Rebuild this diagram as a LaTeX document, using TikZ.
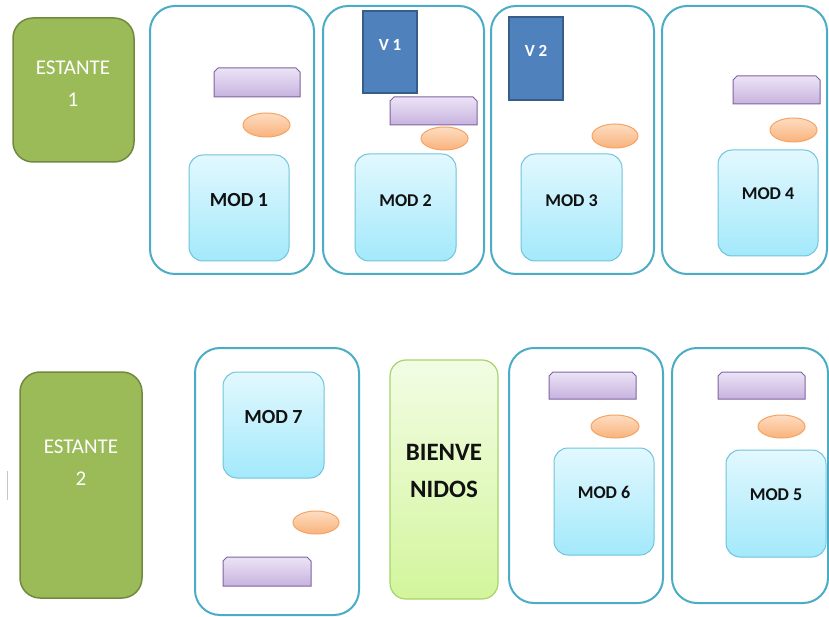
\documentclass[tikz,border=0pt]{standalone}
\usepackage{fontspec}
\setmainfont{Carlito}
\usetikzlibrary{shapes.geometric}
\definecolor{panelc}{HTML}{4BACC6}
\definecolor{estf}{HTML}{9BBB59}
\definecolor{estd}{HTML}{71893F}
\definecolor{modtop}{HTML}{E2F8FE}
\definecolor{modbot}{HTML}{A3E9FB}
\definecolor{modline}{HTML}{6FC4DC}
\definecolor{purtop}{HTML}{ECE4F6}
\definecolor{purbot}{HTML}{C7B2DE}
\definecolor{purline}{HTML}{8064A2}
\definecolor{ortop}{HTML}{FDDDC2}
\definecolor{orbot}{HTML}{F9B27B}
\definecolor{orline}{HTML}{F5A464}
\definecolor{vfill}{HTML}{4F81BD}
\definecolor{vline}{HTML}{385D8A}
\definecolor{bvtop}{HTML}{F2FDE4}
\definecolor{bvbot}{HTML}{D3F59C}
\definecolor{bvline}{HTML}{A6D46A}
\definecolor{txt}{HTML}{111111}
\tikzset{
  panel/.style={draw=panelc, line width=2pt, rounded corners=25pt, fill=white},
  estante/.style={draw=estd, fill=estf, line width=1.5pt, rounded corners=20pt},
  esttxt/.style={text=white, align=center, inner sep=0pt, font=\fontsize{21}{32}\selectfont},
  modbox/.style={draw=modline, line width=1pt, top color=modtop, bottom color=modbot, rounded corners=14pt},
  modtxt/.style={font=\bfseries\fontsize{18}{20}\selectfont, text=txt, inner sep=0pt},
  modtxtbig/.style={font=\bfseries\fontsize{20}{22}\selectfont, text=txt, inner sep=0pt},
  vbox/.style={draw=vline, line width=1.2pt, fill=vfill},
  vtxt/.style={font=\bfseries\fontsize{17}{19}\selectfont, text=white, inner sep=0pt},
  orel/.style={ellipse, draw=orline, line width=1pt, top color=ortop, bottom color=orbot},
  purp/.style={draw=purline, line width=1pt, top color=purtop, bottom color=purbot},
  purpanchor/.style={rectangle, draw=none, fill=none},
  bienv/.style={draw=bvline, line width=1.2pt, top color=bvtop, bottom color=bvbot, rounded corners=16pt},
  bientxt/.style={align=center, text=txt, inner sep=0pt, font=\bfseries\fontsize{25}{37}\selectfont},
}
% generic box: #1 name, #2 style, #3 x1, #4 y1, #5 x2, #6 y2, #7 text
\newcommand\bxnode[7]{%
  \node[#2, inner sep=0pt, outer sep=0pt, minimum width={(#5-#3)*1pt}, minimum height={(#6-#4)*1pt}]
    (#1) at ({(#3+#5)/2},{(#4+#6)/2}) {#7};}
% purple chamfered bar: #1 name, #2 x1, #3 y1, #4 x2, #5 y2
\newcommand\purpbar[5]{%
  \bxnode{#1}{purpanchor}{#2}{#3}{#4}{#5}{}%
  \shade[purp] (#2,#5) -- (#2,{#3+4}) -- ({#2+4},#3) -- ({#4-4},#3) -- (#4,{#3+4}) -- (#4,#5) -- cycle;}
\begin{document}
\begin{tikzpicture}[x=1pt,y=-1pt]
\useasboundingbox (0,0) rectangle (829,617);

% ---------- top row ----------
\bxnode{est1}{estante}{13}{18}{134}{162}{}
\node[esttxt] (est1t) at (73,84) {ESTANTE\\1};

\bxnode{pan1}{panel}{150}{6}{314}{274}{}
\bxnode{pan2}{panel}{323}{6}{484}{274}{}
\bxnode{pan3}{panel}{491}{6}{654}{274}{}
\bxnode{pan4}{panel}{662}{6}{827}{274}{}

% panel 1
\purpbar{pu1}{214}{68}{300}{97}
\bxnode{or1}{orel}{243}{113}{290}{137}{}
\bxnode{mod1}{modbox}{189}{155}{289}{261}{}
\node[modtxtbig] (mod1t) at ([yshift=8pt]mod1.center) {MOD 1};

% panel 2
\bxnode{v1}{vbox}{363}{11}{417}{93}{}
\node[vtxt] (v1t) at (390,45) {V 1};
\purpbar{pu2}{390}{97}{477}{125}
\bxnode{or2}{orel}{421}{127}{468}{150}{}
\bxnode{mod2}{modbox}{355}{154}{456}{261}{}
\node[modtxt] (mod2t) at ([yshift=7pt]mod2.center) {MOD 2};

% panel 3
\bxnode{v2}{vbox}{509}{17}{563}{100}{}
\node[vtxt] (v2t) at (536,51) {V 2};
\bxnode{or3}{orel}{592}{124}{638}{148}{}
\bxnode{mod3}{modbox}{521}{154}{622}{261}{}
\node[modtxt] (mod3t) at ([yshift=7pt]mod3.center) {MOD 3};

% panel 4
\purpbar{pu4}{733}{76}{820}{104}
\bxnode{or4}{orel}{770}{118}{817}{142}{}
\bxnode{mod4}{modbox}{718}{150}{818}{256}{}
\node[modtxt] (mod4t) at ([yshift=9pt]mod4.center) {MOD 4};

% ---------- bottom row ----------
\coordinate (cur1) at (7,471);
\coordinate (cur2) at (7,500);
\draw[gray!45, line width=0.8pt] (cur1) -- (cur2);

\bxnode{est2}{estante}{20}{372}{142}{598}{}
\node[esttxt] (est2t) at (81,463) {ESTANTE\\2};

\bxnode{pan7}{panel}{195}{348}{359}{615}{}
\bxnode{mod7}{modbox}{223}{372}{324}{478}{}
\node[modtxtbig] (mod7t) at ([yshift=8pt]mod7.center) {MOD 7};
\bxnode{or7}{orel}{293}{511}{339}{534}{}
\purpbar{pu7}{223}{557}{311}{586}

\bxnode{bien}{bienv}{390}{360}{498}{599}{}
\node[bientxt] (bient) at (444,471) {BIENVE\\NIDOS};

\bxnode{pan6}{panel}{509}{348}{663}{603}{}
\purpbar{pu6}{549}{372}{636}{399}
\bxnode{or6}{orel}{591}{415}{639}{438}{}
\bxnode{mod6}{modbox}{554}{448}{654}{555}{}
\node[modtxt] (mod6t) at ([yshift=9pt]mod6.center) {MOD 6};

\bxnode{pan5}{panel}{672}{348}{828}{603}{}
\purpbar{pu5}{718}{372}{805}{399}
\bxnode{or5}{orel}{758}{415}{805}{438}{}
\bxnode{mod5}{modbox}{726}{450}{826}{557}{}
\node[modtxt] (mod5t) at ([yshift=9pt]mod5.center) {MOD 5};
\end{tikzpicture}
\end{document}
